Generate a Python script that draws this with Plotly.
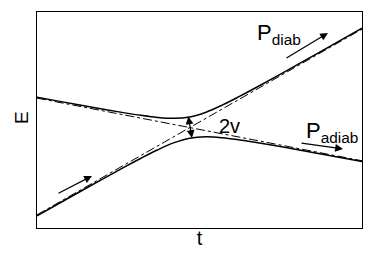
import plotly.graph_objects as go

# diabatic lines (endpoints)
diab_t = [-4.7, 5.3]
diab1_E = [-4.042, 4.558]
diab2_E = [1.363, -1.537]

# adiabatic curves
adia_t = [-4.7, -4, -3, -2, -1.5, -1, -0.5, 0, 0.5, 1, 1.5, 2, 3, 4, 5.3]
upper_E = [1.407, 1.212, 0.938, 0.680, 0.565, 0.471, 0.426, 0.49, 0.711, 1.041, 1.420, 1.820, 2.648, 3.492, 4.597]
lower_E = [-4.086, -3.492, -2.648, -1.820, -1.420, -1.041, -0.711, -0.49, -0.426, -0.471, -0.565, -0.680, -0.938, -1.212, -1.576]

# arrows: (t_start, E_start, t_end, E_end, double-headed)
arrows = [
    (-4.085, -3.074, -3.008, -2.241, False),
    (2.931, 3.176, 4.254, 4.380, False),
    (3.392, -0.713, 4.715, -0.991, False),
    (-0.054, 0.583, 0.069, -0.481, True),
]

fig = go.Figure()
for ys in (diab1_E, diab2_E):
    fig.add_trace(go.Scatter(x=diab_t, y=ys, mode="lines",
                             line=dict(color="black", width=1, dash="dashdot"),
                             showlegend=False, hoverinfo="skip"))
for ys in (upper_E, lower_E):
    fig.add_trace(go.Scatter(x=adia_t, y=ys, mode="lines",
                             line=dict(color="black", width=1.5, shape="spline"),
                             showlegend=False, hoverinfo="skip"))

for x0, y0, x1, y1, both in arrows:
    fig.add_annotation(x=x1, y=y1, ax=x0, ay=y0, xref="x", yref="y",
                       axref="x", ayref="y", text="", showarrow=True,
                       arrowhead=2, arrowsize=1.3, arrowwidth=1.2, arrowcolor="black",
                       arrowside="end+start" if both else "end",
                       startarrowhead=2, startarrowsize=1.3)

font = "Liberation Sans, Arial, Helvetica, sans-serif"

fig.add_annotation(x=2.02, y=4.35, xref="x", yref="y", text="P<sub>diab</sub>",
                   showarrow=False, xanchor="left", yanchor="middle",
                   font=dict(size=22, color="black", family=font))
fig.add_annotation(x=3.52, y=-0.2, xref="x", yref="y", text="P<sub>adiab</sub>",
                   showarrow=False, xanchor="left", yanchor="middle",
                   font=dict(size=22, color="black", family=font))
fig.add_annotation(x=1.208, y=0.074, xref="x", yref="y", text="2v",
                   showarrow=False, xanchor="center", yanchor="middle",
                   font=dict(size=20, color="black", family=font))
fig.add_annotation(x=0, y=0.509, xref="paper", yref="paper", text="E",
                   showarrow=False, xanchor="center", yanchor="middle",
                   xshift=-16, textangle=-90,
                   font=dict(size=19, color="black", family=font))

axis_common = dict(showgrid=False, zeroline=False, showticklabels=False, ticks="",
                   showline=True, linecolor="black", linewidth=1, mirror=True)
fig.update_layout(
    width=374, height=249,
    margin=dict(l=29, r=20, t=4, b=29),
    paper_bgcolor="white", plot_bgcolor="white",
    font=dict(family=font, color="black"),
    xaxis=dict(range=[-4.7, 5.3], title=dict(text="t", font=dict(size=20), standoff=2), **axis_common),
    yaxis=dict(range=[-4.65, 5.35], **axis_common),
)
fig.write_html("out.html")
